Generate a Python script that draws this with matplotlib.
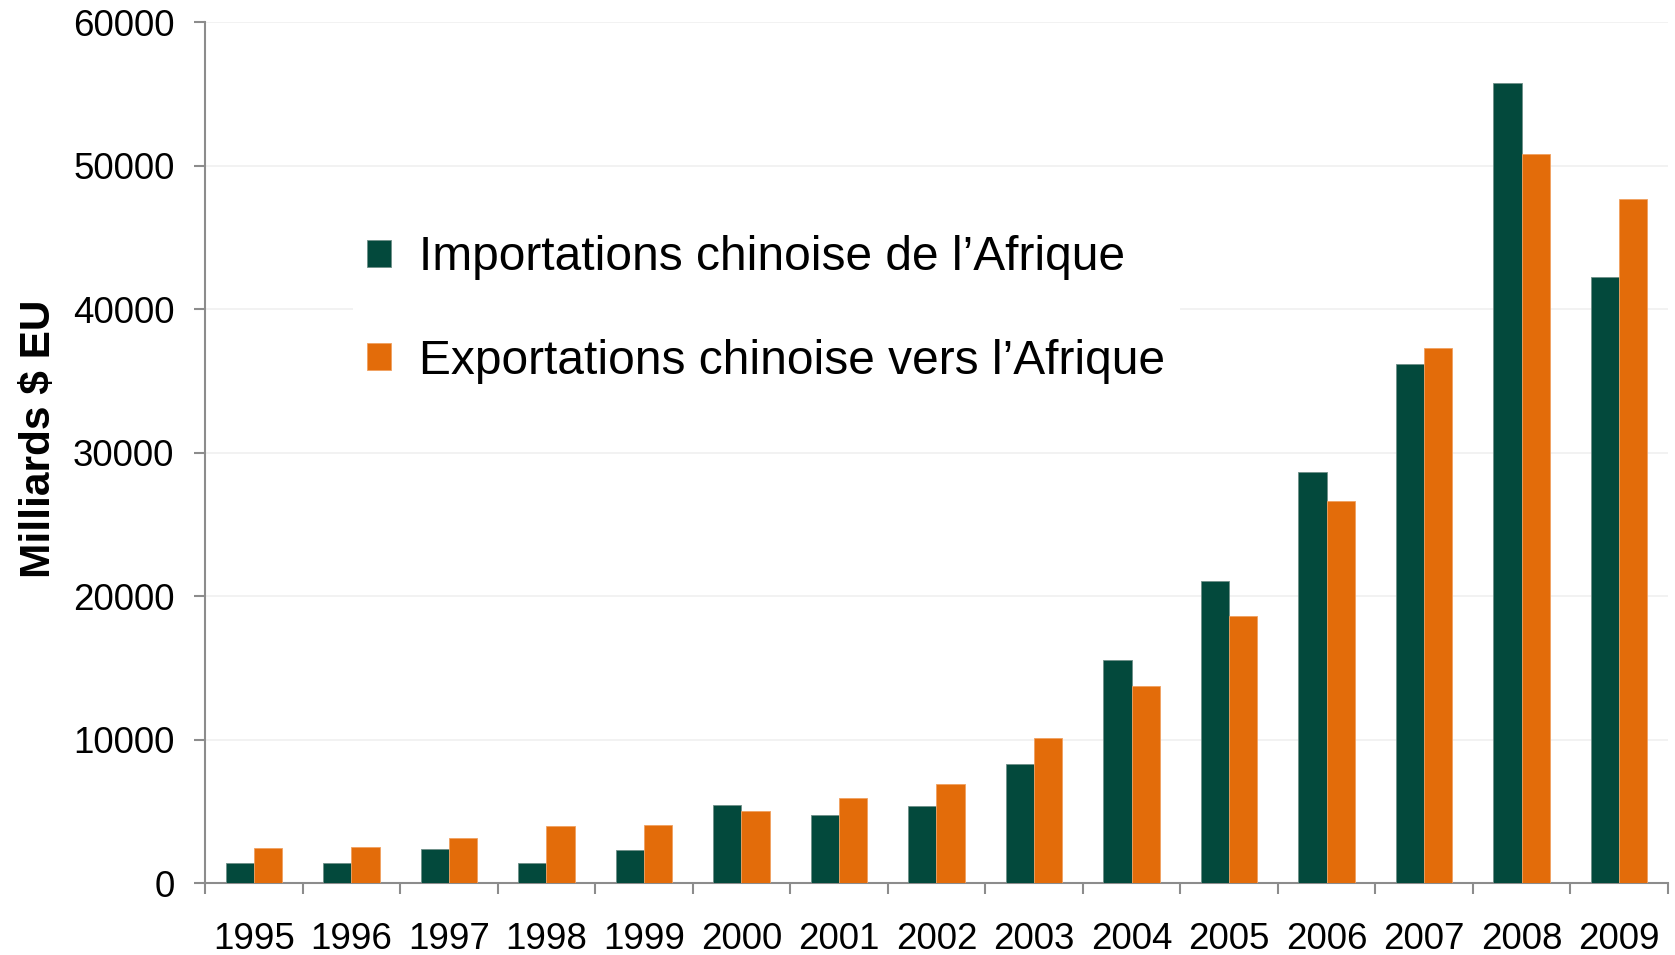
import numpy as np
import matplotlib.pyplot as plt
from matplotlib.ticker import FixedLocator

plt.rcParams['font.family'] = ['Liberation Sans', 'DejaVu Sans']

years = ['1995', '1996', '1997', '1998', '1999', '2000', '2001', '2002',
         '2003', '2004', '2005', '2006', '2007', '2008', '2009']
imports = [1400, 1420, 2420, 1440, 2320, 5480, 4760, 5390,
           8320, 15590, 21060, 28700, 36180, 55810, 42240]
exports = [2460, 2530, 3180, 4020, 4090, 5040, 5970, 6920,
           10150, 13770, 18660, 26670, 37280, 50810, 47680]

green = '#03493c'
orange = '#e36c0a'
axis_gray = '#8c8c8c'

fig = plt.figure(figsize=(16.75, 9.55), dpi=100)
ax = fig.add_axes([0.1224, 0.075, 0.8734, 0.9015])

x = np.arange(len(years))
w = 0.29
ax.bar(x - w / 2, imports, width=w, color=green, edgecolor='#6f8f88', linewidth=0.6,
       label='Importations chinoise de l\u2019Afrique', zorder=3)
ax.bar(x + w / 2, exports, width=w, color=orange, edgecolor='#f0a060', linewidth=0.6,
       label='Exportations chinoise vers l\u2019Afrique', zorder=3)

ax.set_xlim(-0.5, len(years) - 0.5)
ax.set_ylim(0, 60000)
ax.set_yticks(np.arange(0, 60001, 10000))
ax.set_xticks(x)
ax.set_xticklabels(years)
ax.xaxis.set_minor_locator(FixedLocator(np.arange(-0.5, len(years), 1.0)))

ax.tick_params(axis='x', which='major', length=0, pad=28, labelsize=26.5)
ax.tick_params(axis='x', which='minor', length=8, width=1.5, color=axis_gray)
ax.tick_params(axis='y', length=8, width=1.5, color=axis_gray, pad=14, labelsize=26.5)

ax.grid(axis='y', color='#f0f0f0', linewidth=1.2, zorder=0)
ax.set_axisbelow(True)
for side in ['top', 'right']:
    ax.spines[side].set_visible(False)
for side in ['left', 'bottom']:
    ax.spines[side].set_color(axis_gray)
    ax.spines[side].set_linewidth(1.5)

fig.text(0.0235, 0.54, 'Milliards $ EU', rotation=90, fontsize=30.5,
         fontweight='bold', ha='center', va='center')

leg = ax.legend(loc='center left', bbox_to_anchor=(0.1963, 0.676),
                bbox_transform=fig.transFigure, fontsize=34.5, frameon=True,
                facecolor='white', edgecolor='none', framealpha=1,
                handlelength=0.49, handleheight=0.49, handletextpad=0.6,
                labelspacing=1.22, borderpad=0.3)
leg.get_frame().set_boxstyle('square', pad=0)

fig.savefig('out.png', dpi=100)
